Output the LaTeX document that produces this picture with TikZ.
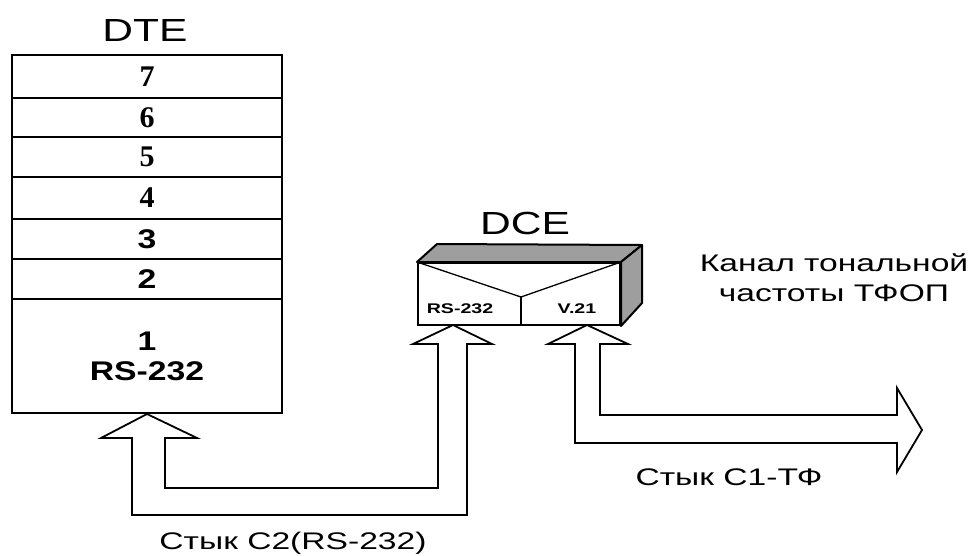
\documentclass[tikz,border=0pt]{standalone}
\usepackage{fontspec}
\setmainfont{Liberation Sans}
\newfontfamily\serifbold{Liberation Serif}
\usetikzlibrary{calc}
\begin{document}
\begin{tikzpicture}[x=1pt,y=-1pt,
  layer/.style={draw,line width=2pt,minimum width=270pt,inner sep=0pt,anchor=center},
  snum/.style={font=\fontsize{30}{30}\selectfont\serifbold\bfseries},
  anum/.style={font=\fontsize{27}{30}\selectfont\bfseries,xscale=1.25},
  title/.style={font=\fontsize{32}{32}\selectfont,xscale=1.33},
  lbl/.style={font=\fontsize{24}{30}\selectfont,xscale=1.4,align=center},
  small/.style={font=\fontsize{14}{14}\selectfont\bfseries,xscale=1.4},
  pipe/.style={draw,line width=1.8pt,line join=miter,fill=white}]
\useasboundingbox (0,0) rectangle (971,555);

% DTE stack
\node[title] (dte) at (145,30) {DTE};
\node[layer,minimum height=43pt,snum] (l7) at (147,76.5) {7};
\node[layer,minimum height=39pt,snum] (l6) at (147,117.5) {6};
\node[layer,minimum height=40pt,snum] (l5) at (147,157) {5};
\node[layer,minimum height=42pt,snum] (l4) at (147,198) {4};
\node[layer,minimum height=40pt] (l3) at (147,239) {};
\node[layer,minimum height=40pt] (l2) at (147,279) {};
\node[layer,minimum height=114pt] (l1) at (147,356) {};
\node[anum] (l3t) at (l3) {3};
\node[anum] (l2t) at (l2) {2};
\node[anum,align=center] (l1t) at (147,356) {1\\RS-232};

% DCE box
\node[title] (dce) at (525,223) {DCE};
\node[draw,line width=2pt,minimum width=202pt,minimum height=62pt,inner sep=0pt] (front) at (519,294) {};
\coordinate (mid) at (521,297);
\filldraw[fill=black!38,line width=2pt,line join=round]
  (front.north west) -- ++(20,-18) -- (642,245) -- (front.north east) -- cycle;
\filldraw[fill=black!38,line width=2pt,line join=round]
  (front.north east) -- (642,245) -- (642,303) -- (front.south east) -- cycle;
\draw[line width=1.3pt] (front.north west) -- (mid) -- (front.north east);
\draw[line width=1.5pt] (mid) -- (mid |- front.south);
\node[small] (rs) at (460,309) {RS-232};
\node[small] (v21) at (577,309) {V.21};

% arrow DTE <-> DCE RS-232
\coordinate (t1) at (l1.south);
\coordinate (t2) at (453,325);
\draw[pipe]
  (165,438) -- (165,488) -- (438,488) -- (438,344) -- (413,344) -- (t2)
  -- (492,344) -- (467,344) -- (467,515) -- (132,515) -- (132,438)
  -- (101,438) -- (t1) -- (197,438) -- cycle;

% arrow DCE V.21 <-> channel
\coordinate (t3) at (587,325);
\coordinate (t4) at (922,430);
\draw[pipe]
  (600,344) -- (600,415) -- (897,415) -- (897,388) -- (t4) -- (897,472)
  -- (897,443) -- (575,443) -- (575,344) -- (548,344) -- (t3)
  -- (628,344) -- cycle;

% labels
\node[lbl] (chan) at (834,278) {Канал тональной\\частоты ТФОП};
\node[lbl] (c1) at (729,477) {Стык С1-ТФ};
\node[lbl] (c2) at (293,543) {Стык С2(RS-232)};
\end{tikzpicture}
\end{document}
